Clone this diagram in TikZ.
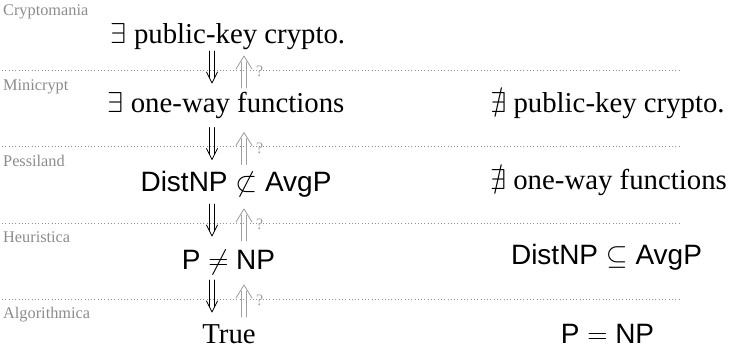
\RequirePackage{fix-cm}
\documentclass[tikz,border=0pt]{standalone}
\usepackage{amssymb}
\usepackage{fontspec}
\setmainfont{Liberation Serif}
\newfontfamily\sansf{Liberation Sans}
\usetikzlibrary{calc}
\definecolor{labgray}{HTML}{8C8C8C}
\definecolor{arrgray}{HTML}{A0A0A0}
\definecolor{dotgray}{HTML}{909090}
\tikzset{
  rowtxt/.style={anchor=base, inner sep=0pt, font=\fontsize{28.8}{34}\selectfont},
  sanstxt/.style={anchor=base, inner sep=0pt, font=\fontsize{28}{34}\selectfont\sansf},
  worldlab/.style={anchor=base west, inner sep=0pt, text=labgray, font=\fontsize{16.3}{19}\selectfont},
  sepline/.style={draw=dotgray, line width=0.8pt, dash pattern=on 0.8pt off 2.5pt},
  downarr/.style={draw=black, line width=0.85pt, line cap=round, line join=round},
  uparr/.style={draw=arrgray, line width=0.85pt, line cap=round, line join=round},
  qmark/.style={anchor=west, inner sep=0pt, text=arrgray, font=\fontsize{16}{18}\selectfont}
}
\begin{document}
\begin{tikzpicture}[x=1pt,y=-1pt]
\useasboundingbox (0,0) rectangle (729,354);
% separator lines
\foreach \yy in {70,146.5,223,299}{
  \draw[sepline] (2,\yy) -- (681,\yy);
}
% world labels
\node[worldlab] (lab1) at (3,15) {Cryptomania};
\node[worldlab] (lab2) at (3,90) {Minicrypt};
\node[worldlab] (lab3) at (3,166) {Pessiland};
\node[worldlab] (lab4) at (3,242) {Heuristica};
\node[worldlab] (lab5) at (3,318) {Algorithmica};
% left column
\node[rowtxt] (L1) at (228,43) {$\exists$ public-key crypto.};
\node[rowtxt] (L2) at (226,112) {$\exists$ one-way functions};
\node[sanstxt] (L3) at (236,191) {DistNP $\not\subset$ AvgP};
\node[sanstxt] (L4) at (228.5,269) {P $\neq$ NP};
\node[rowtxt] (L5) at (229,343) {True};
% right column
\node[rowtxt] (R2) at (607.5,112) {$\nexists$ public-key crypto.};
\node[rowtxt] (R3) at (608.5,189) {$\nexists$ one-way functions};
\node[sanstxt] (R4) at (606.5,264) {DistNP $\subseteq$ AvgP};
\node[sanstxt] (R5) at (607.5,343) {P $=$ NP};
% implication arrows
\foreach \i/\yy in {1/70,2/146.5,3/223,4/299}{
  \coordinate (dt\i) at (212,\yy-19);
  \coordinate (db\i) at (212,\yy+13);
  \coordinate (ub\i) at (244,\yy+18);
  \coordinate (ut\i) at (244,\yy-14);
  % down arrow (implies)
  \draw[downarr] ($(dt\i)+(-2.9,0)$) -- ($(db\i)+(-2.9,-5)$);
  \draw[downarr] ($(dt\i)+(2.9,0)$) -- ($(db\i)+(2.9,-5)$);
  \draw[downarr] ($(db\i)+(-5.5,-11)$) .. controls ($(db\i)+(-2.5,-5)$) .. (db\i)
                 .. controls ($(db\i)+(2.5,-5)$) .. ($(db\i)+(5.5,-11)$);
  % up arrow (open question)
  \draw[uparr] ($(ub\i)+(-2.6,0)$) -- ($(ut\i)+(-2.6,6)$);
  \draw[uparr] ($(ub\i)+(2.6,0)$) -- ($(ut\i)+(2.6,6)$);
  \draw[uparr] ($(ut\i)+(-8,13)$) .. controls ($(ut\i)+(-3.5,6)$) .. (ut\i)
               .. controls ($(ut\i)+(3.5,6)$) .. ($(ut\i)+(8,13)$);
  \node[qmark] (q\i) at (256,\yy+1.5) {?};
}
\end{tikzpicture}
\end{document}
